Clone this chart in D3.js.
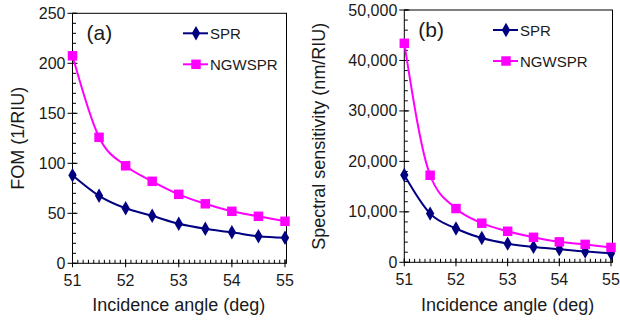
<!DOCTYPE html>
<html>
<head>
<meta charset="utf-8">
<script src="https://cdn.jsdelivr.net/npm/d3@7"></script>
<style>
  body { margin: 0; background: #fff; }
  svg text { font-family: "Liberation Sans", Arial, sans-serif; fill: #1a1a1a; }
</style>
</head>
<body>
<svg id="chart" width="620" height="322"></svg>
<script>
// shared x values
const angles = [51, 51.5, 52, 52.5, 53, 53.5, 54, 54.5, 55];
const xTicks = [51, 52, 53, 54, 55];

// panel (a) FOM
const fomSPR = [88, 67.5, 55, 47.5, 39.5, 34.5, 31, 27, 25.5];
const fomNGWSPR = [207.5, 126, 97.5, 82, 69, 59.5, 52, 47, 42];
const fomTicks = [0, 50, 100, 150, 200, 250];

// panel (b) spectral sensitivity
const sensSPR = [17300, 9650, 6700, 4800, 3700, 3050, 2600, 2150, 1800];
const sensNGWSPR = [43400, 17250, 10650, 7750, 6150, 4950, 4050, 3550, 2950];
const sensTicks = [0, 10000, 20000, 30000, 40000, 50000];

const navy = "#000080", magenta = "#ff00ff";
const svg = d3.select("#chart");

function panel(o) {
  const x = d3.scaleLinear().domain([51, 55]).range([o.left, o.right]);
  const y = d3.scaleLinear().domain([0, o.ymax]).range([o.bottom, o.top]);
  const g = svg.append("g");

  // frame
  g.append("rect")
    .attr("x", o.left).attr("y", o.top)
    .attr("width", o.right - o.left + 1.5).attr("height", o.bottom - o.top)
    .attr("fill", "none").attr("stroke", "#000").attr("stroke-width", 1);

  // minor ticks (inside)
  d3.range(51, 55.0001, 0.1).forEach(v => {
    g.append("line").attr("x1", x(v)).attr("x2", x(v))
      .attr("y1", o.bottom).attr("y2", o.bottom - 3.5)
      .attr("stroke", "#000");
  });
  d3.range(0, o.ymax + 0.001, o.ymax / 25).forEach(v => {
    g.append("line").attr("x1", o.left).attr("x2", o.left + 3.5)
      .attr("y1", y(v)).attr("y2", y(v))
      .attr("stroke", "#000");
  });

  // major ticks + labels
  xTicks.forEach(v => {
    g.append("line").attr("x1", x(v)).attr("x2", x(v))
      .attr("y1", o.bottom - 4).attr("y2", o.bottom + 4).attr("stroke", "#000");
    g.append("text").attr("x", x(v)).attr("y", o.bottom + 23)
      .attr("text-anchor", "middle").style("font-size", "16px").text(v);
  });
  o.yticks.forEach(v => {
    g.append("line").attr("x1", o.left - 5).attr("x2", o.left + 5)
      .attr("y1", y(v)).attr("y2", y(v)).attr("stroke", "#000");
    g.append("text").attr("x", o.left - 7).attr("y", y(v) + 5.5)
      .attr("text-anchor", "end").style("font-size", "16px").text(o.fmt(v));
  });

  // axis titles
  g.append("text").attr("x", (o.left + o.right) / 2).attr("y", 311)
    .attr("text-anchor", "middle").style("font-size", "18px").text("Incidence angle (deg)");
  g.append("text")
    .attr("transform", `translate(${o.ytx},${(o.top + o.bottom) / 2}) rotate(-90)`)
    .attr("text-anchor", "middle").style("font-size", "18px").text(o.ytitle);

  // panel label
  g.append("text").attr("x", o.left + 14).attr("y", o.top + 27)
    .style("font-size", "21px").text(o.tag);

  const line = d3.line().x((d, i) => x(angles[i])).y(d => y(d)).curve(d3.curveMonotoneX);

  const series = [
    { vals: o.spr, color: navy, shape: d3.symbolDiamond, size: 60, name: "SPR" },
    { vals: o.ngw, color: magenta, shape: d3.symbolSquare, size: 90, name: "NGWSPR" }
  ];
  series.forEach((s, k) => {
    g.append("path").datum(s.vals).attr("d", line)
      .attr("fill", "none").attr("stroke", s.color).attr("stroke-width", 2);
    g.selectAll(null).data(s.vals).enter().append("path")
      .attr("d", d3.symbol(s.shape, s.size))
      .attr("transform", (d, i) => `translate(${x(angles[i])},${y(d)})`)
      .attr("fill", s.color);

    // legend
    const ly = o.top + 20 + k * 31;
    g.append("line").attr("x1", o.legx).attr("x2", o.legx + 25)
      .attr("y1", ly).attr("y2", ly).attr("stroke", s.color).attr("stroke-width", 2);
    g.append("path").attr("d", d3.symbol(s.shape, s.size))
      .attr("transform", `translate(${o.legx + 13},${ly})`).attr("fill", s.color);
    g.append("text").attr("x", o.legx + 27).attr("y", ly + 5.5)
      .style("font-size", "15px").text(s.name);
  });
}

panel({
  left: 72.5, right: 285, top: 13.3, bottom: 263.3, ymax: 250,
  yticks: fomTicks, fmt: d3.format("d"), spr: fomSPR, ngw: fomNGWSPR,
  ytitle: "FOM (1/RIU)", ytx: 24, tag: "(a)", legx: 183
});
panel({
  left: 404.3, right: 611, top: 10, bottom: 262.3, ymax: 50000,
  yticks: sensTicks, fmt: d3.format(","), spr: sensSPR, ngw: sensNGWSPR,
  ytitle: "Spectral sensitivity (nm/RIU)", ytx: 325, tag: "(b)", legx: 493
});
</script>
</body>
</html>
